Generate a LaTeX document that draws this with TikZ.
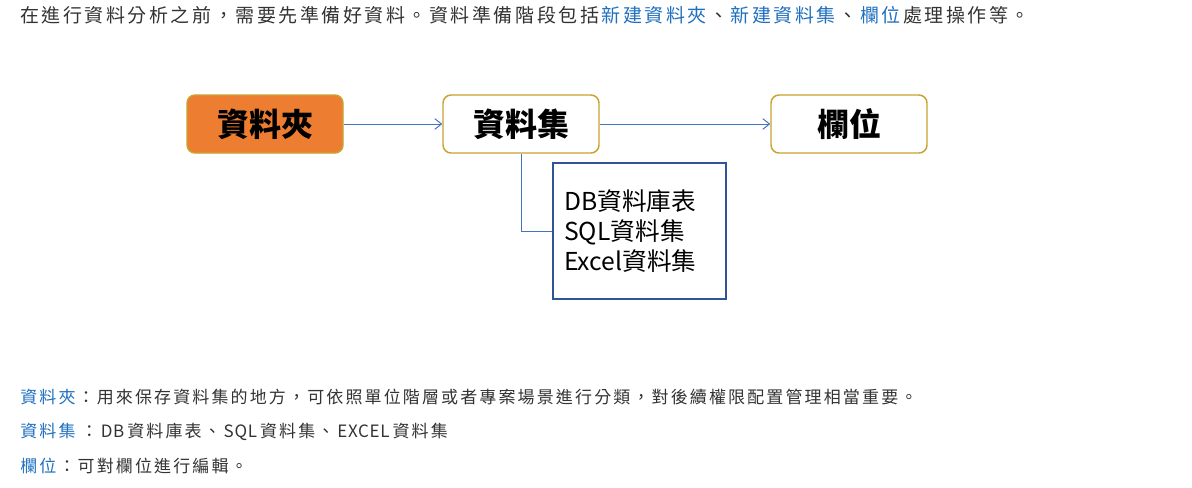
\documentclass[tikz,border=0pt]{standalone}
\usepackage{fontspec}
\setmainfont{Noto Sans CJK TC}
\usetikzlibrary{arrows.meta}
\definecolor{txtgray}{HTML}{333333}
\definecolor{linkblue}{HTML}{1F6FBF}
\definecolor{boxgold}{HTML}{C9A230}
\definecolor{boxorange}{HTML}{ED7D31}
\definecolor{linkline}{HTML}{4472C4}
\definecolor{listborder}{HTML}{2F5597}
\newXeTeXintercharclass\CJKcls
\newcount\cjkc
\cjkc="3000
\loop\XeTeXcharclass\cjkc=\CJKcls\ifnum\cjkc<"9FFF\advance\cjkc by 1\repeat
\cjkc="FF00
\loop\XeTeXcharclass\cjkc=\CJKcls\ifnum\cjkc<"FFEF\advance\cjkc by 1\repeat
\newlength\cjkgap
\setlength\cjkgap{1.9pt}
\newlength\latgap
\setlength\latgap{1.9pt}
\XeTeXinterchartoks\CJKcls\CJKcls={\kern\cjkgap}
\XeTeXinterchartoks 0 \CJKcls={\kern\latgap}
\XeTeXinterchartoks\CJKcls 0 ={\kern\latgap}
\newcommand\cjkon{\XeTeXinterchartokenstate=1\relax}
\newcommand\hl[1]{\kern\cjkgap\textcolor{linkblue}{#1}\kern\cjkgap}
\newcommand\hlstart[1]{\textcolor{linkblue}{#1}\kern\cjkgap}
\begin{document}
\begin{tikzpicture}[x=0.75pt,y=-0.75pt,
  stepbox/.style={draw=boxgold,line width=1.1pt,rounded corners=6pt,minimum width=117pt,minimum height=43.5pt,inner sep=0pt,font=\fontsize{24}{26}\selectfont\bfseries},
  flow/.style={draw=linkline,line width=0.75pt,-{Straight Barb[length=5pt,width=8pt]}},
  para/.style={anchor=west,inner sep=0pt,text=txtgray}]
\useasboundingbox (0,0) rectangle (1192,487);
\node[para,font=\cjkon\setlength\cjkgap{1.9pt}\fontsize{14.25}{16}\selectfont] (intro) at (20,15) {在進行資料分析之前，需要先準備好資料。資料準備階段包括\hl{新建資料夾}、\hl{新建資料集}、\hl{欄位}處理操作等。};
\node[stepbox,fill=boxorange] (folder) at (265,124) {資料夾};
\node[stepbox,fill=white] (dataset) at (521,124) {資料集};
\node[stepbox,fill=white] (field) at (849,124) {欄位};
\draw[flow] (folder) -- (dataset);
\draw[flow] (dataset) -- (field);
\node[draw=listborder,line width=1pt,minimum width=129.75pt,minimum height=102pt,inner sep=0pt] (list) at (639.5,231) {};
\node[anchor=west,align=left,inner sep=0pt,font=\fontsize{18.5}{22.5}\selectfont] (listtxt) at (564,231) {DB資料庫表\\SQL資料集\\Excel資料集};
\draw[draw=linkline,line width=0.75pt] (dataset.south) |- (list.west);
\node[para,font=\cjkon\setlength\cjkgap{1.6pt}\fontsize{12.75}{14}\selectfont] (desc1) at (20,397) {\hlstart{資料夾}：用來保存資料集的地方，可依照單位階層或者專案場景進行分類，對後續權限配置管理相當重要。};
\node[para,font=\cjkon\setlength\cjkgap{1.6pt}\setlength\latgap{2.2pt}\addfontfeature{LetterSpace=4}\fontsize{12.75}{14}\selectfont] (desc2) at (20,432) {\textcolor{linkblue}{資料集}\hspace{4pt}：DB資料庫表、SQL資料集、EXCEL資料集};
\node[para,font=\cjkon\setlength\cjkgap{1.6pt}\fontsize{12.75}{14}\selectfont] (desc3) at (20,466) {\hlstart{欄位}：可對欄位進行編輯。};
\end{tikzpicture}
\end{document}
